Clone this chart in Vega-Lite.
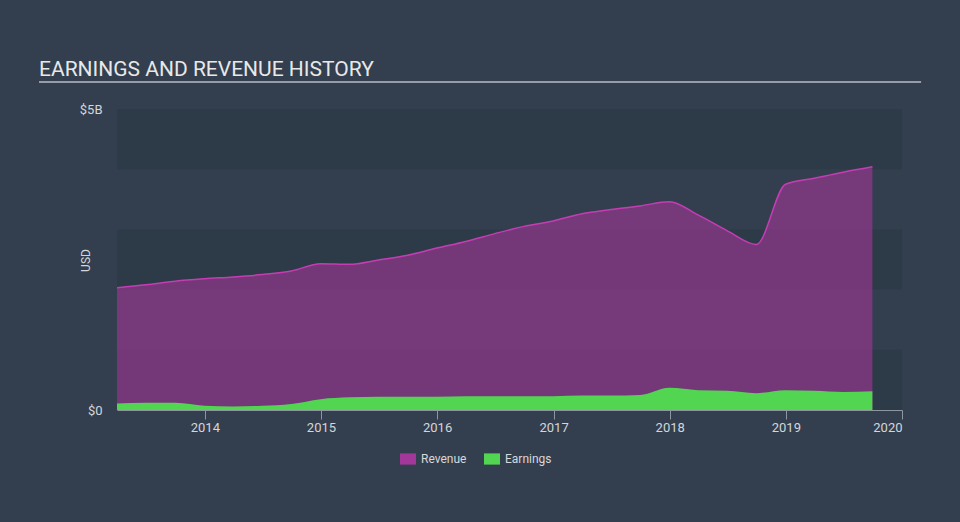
{
  "$schema": "https://vega.github.io/schema/vega-lite/v6.json",
  "width": 785,
  "height": 301,
  "autosize": {"type": "none"},
  "padding": {"left": 117, "top": 109, "right": 58, "bottom": 112},
  "background": "#333f4f",
  "config": {"view": {"stroke": null}, "font": "Roboto"},
  "title": {
    "text": "EARNINGS AND REVENUE HISTORY",
    "anchor": "start",
    "frame": "group",
    "dx": -78,
    "offset": 1,
    "fontSize": 21,
    "fontWeight": "normal",
    "color": "#e8e8e8",
    "font": "Roboto"
  },
  "datasets": {
    "bands": [
      {"lo": 0, "hi": 1},
      {"lo": 2, "hi": 3},
      {"lo": 4, "hi": 5}
    ],
    "history": [
      {"date": "2013-03-31", "series": "Revenue", "value": 2.03},
      {"date": "2013-06-30", "series": "Revenue", "value": 2.08},
      {"date": "2013-09-30", "series": "Revenue", "value": 2.14},
      {"date": "2013-12-31", "series": "Revenue", "value": 2.18},
      {"date": "2014-03-31", "series": "Revenue", "value": 2.21},
      {"date": "2014-06-30", "series": "Revenue", "value": 2.25},
      {"date": "2014-09-30", "series": "Revenue", "value": 2.31},
      {"date": "2014-12-31", "series": "Revenue", "value": 2.43},
      {"date": "2015-03-31", "series": "Revenue", "value": 2.42},
      {"date": "2015-06-30", "series": "Revenue", "value": 2.49},
      {"date": "2015-09-30", "series": "Revenue", "value": 2.57},
      {"date": "2015-12-31", "series": "Revenue", "value": 2.69},
      {"date": "2016-03-31", "series": "Revenue", "value": 2.80},
      {"date": "2016-06-30", "series": "Revenue", "value": 2.93},
      {"date": "2016-09-30", "series": "Revenue", "value": 3.05},
      {"date": "2016-12-31", "series": "Revenue", "value": 3.14},
      {"date": "2017-03-31", "series": "Revenue", "value": 3.26},
      {"date": "2017-06-30", "series": "Revenue", "value": 3.33},
      {"date": "2017-09-30", "series": "Revenue", "value": 3.39},
      {"date": "2017-12-31", "series": "Revenue", "value": 3.46},
      {"date": "2018-03-31", "series": "Revenue", "value": 3.24},
      {"date": "2018-06-30", "series": "Revenue", "value": 2.98},
      {"date": "2018-09-30", "series": "Revenue", "value": 2.75},
      {"date": "2018-12-31", "series": "Revenue", "value": 3.75},
      {"date": "2019-03-31", "series": "Revenue", "value": 3.85},
      {"date": "2019-06-30", "series": "Revenue", "value": 3.95},
      {"date": "2019-09-30", "series": "Revenue", "value": 4.04},
      {"date": "2013-03-31", "series": "Earnings", "value": 0.11},
      {"date": "2013-06-30", "series": "Earnings", "value": 0.12},
      {"date": "2013-09-30", "series": "Earnings", "value": 0.12},
      {"date": "2013-12-31", "series": "Earnings", "value": 0.07},
      {"date": "2014-03-31", "series": "Earnings", "value": 0.06},
      {"date": "2014-06-30", "series": "Earnings", "value": 0.07},
      {"date": "2014-09-30", "series": "Earnings", "value": 0.10},
      {"date": "2014-12-31", "series": "Earnings", "value": 0.18},
      {"date": "2015-03-31", "series": "Earnings", "value": 0.21},
      {"date": "2015-06-30", "series": "Earnings", "value": 0.22},
      {"date": "2015-09-30", "series": "Earnings", "value": 0.22},
      {"date": "2015-12-31", "series": "Earnings", "value": 0.22},
      {"date": "2016-03-31", "series": "Earnings", "value": 0.23},
      {"date": "2016-06-30", "series": "Earnings", "value": 0.23},
      {"date": "2016-09-30", "series": "Earnings", "value": 0.23},
      {"date": "2016-12-31", "series": "Earnings", "value": 0.23},
      {"date": "2017-03-31", "series": "Earnings", "value": 0.24},
      {"date": "2017-06-30", "series": "Earnings", "value": 0.24},
      {"date": "2017-09-30", "series": "Earnings", "value": 0.25},
      {"date": "2017-12-31", "series": "Earnings", "value": 0.37},
      {"date": "2018-03-31", "series": "Earnings", "value": 0.33},
      {"date": "2018-06-30", "series": "Earnings", "value": 0.32},
      {"date": "2018-09-30", "series": "Earnings", "value": 0.28},
      {"date": "2018-12-31", "series": "Earnings", "value": 0.33},
      {"date": "2019-03-31", "series": "Earnings", "value": 0.32},
      {"date": "2019-06-30", "series": "Earnings", "value": 0.30},
      {"date": "2019-09-30", "series": "Earnings", "value": 0.31}
    ]
  },
  "layer": [
    {
      "data": {"name": "bands"},
      "mark": {"type": "rect", "color": "#2d3a48"},
      "encoding": {
        "y": {
          "field": "lo",
          "type": "quantitative",
          "scale": {"domain": [0, 5], "nice": false},
          "axis": {
            "values": [0, 5],
            "labelExpr": "datum.value == 0 ? '$0' : '$5B'",
            "grid": false,
            "ticks": false,
            "domain": false,
            "labelPadding": 15,
            "labelColor": "#d3d6da",
            "labelFontSize": 13,
            "title": "USD",
            "titleColor": "#d3d6da",
            "titleFontSize": 12,
            "titleFontWeight": "normal",
            "titleX": -32,
            "titleY": 151,
            "titleAlign": "center",
            "titleBaseline": "middle"
          }
        },
        "y2": {"field": "hi"}
      }
    },
    {
      "data": {"name": "history"},
      "transform": [{"filter": "datum.series === 'Revenue'"}],
      "mark": {"type": "area", "interpolate": "monotone", "fillOpacity": 0.6},
      "encoding": {
        "x": {
          "field": "date",
          "type": "temporal",
          "scale": {
            "type": "utc",
            "domain": [
              {"year": 2013, "month": 3, "date": 31, "utc": true},
              {"year": 2020, "month": 1, "date": 1, "utc": true}
            ]
          },
          "axis": {
            "values": [
              {"year": 2014, "month": 1, "date": 1, "utc": true},
              {"year": 2015, "month": 1, "date": 1, "utc": true},
              {"year": 2016, "month": 1, "date": 1, "utc": true},
              {"year": 2017, "month": 1, "date": 1, "utc": true},
              {"year": 2018, "month": 1, "date": 1, "utc": true},
              {"year": 2019, "month": 1, "date": 1, "utc": true},
              {"year": 2020, "month": 1, "date": 1, "utc": true}
            ],
            "format": "%Y",
            "title": null,
            "grid": false,
            "domainColor": "#8e97a1",
            "tickColor": "#8e97a1",
            "tickSize": 9,
            "labelPadding": 2,
            "labelColor": "#d3d6da",
            "labelFontSize": 13,
            "labelFlush": true,
            "zindex": 1
          }
        },
        "y": {"field": "value", "type": "quantitative", "stack": null},
        "color": {
          "field": "series",
          "type": "nominal",
          "scale": {"domain": ["Revenue", "Earnings"], "range": ["#a4379a", "#52d652"]},
          "legend": {
            "orient": "none",
            "legendX": 283,
            "legendY": 342,
            "direction": "horizontal",
            "title": null,
            "labelFontSize": 12,
            "labelColor": "#d8d8d8",
            "symbolType": "M-1,-0.7H1V0.7H-1Z",
            "symbolSize": 256,
            "symbolStrokeWidth": 0,
            "symbolOpacity": 1,
            "columnPadding": 17,
            "labelOffset": 5
          }
        }
      }
    },
    {
      "data": {"name": "history"},
      "transform": [{"filter": "datum.series === 'Revenue'"}],
      "mark": {"type": "line", "interpolate": "monotone", "color": "#c53db4", "strokeWidth": 1.5},
      "encoding": {
        "x": {"field": "date", "type": "temporal"},
        "y": {"field": "value", "type": "quantitative"}
      }
    },
    {
      "data": {"name": "history"},
      "transform": [{"filter": "datum.series === 'Earnings'"}],
      "mark": {"type": "area", "interpolate": "monotone", "fillOpacity": 1},
      "encoding": {
        "x": {"field": "date", "type": "temporal"},
        "y": {"field": "value", "type": "quantitative", "stack": null},
        "color": {"field": "series", "type": "nominal"}
      }
    },
    {
      "data": {"values": [{}]},
      "mark": {"type": "rule", "color": "#b8bec6", "strokeWidth": 1.5},
      "encoding": {
        "x": {"datum": {"year": 2012, "month": 7, "date": 29, "utc": true}, "type": "temporal"},
        "x2": {"datum": {"year": 2020, "month": 3, "date": 1, "utc": true}},
        "y": {"datum": 5.449, "type": "quantitative"}
      }
    }
  ]
}
